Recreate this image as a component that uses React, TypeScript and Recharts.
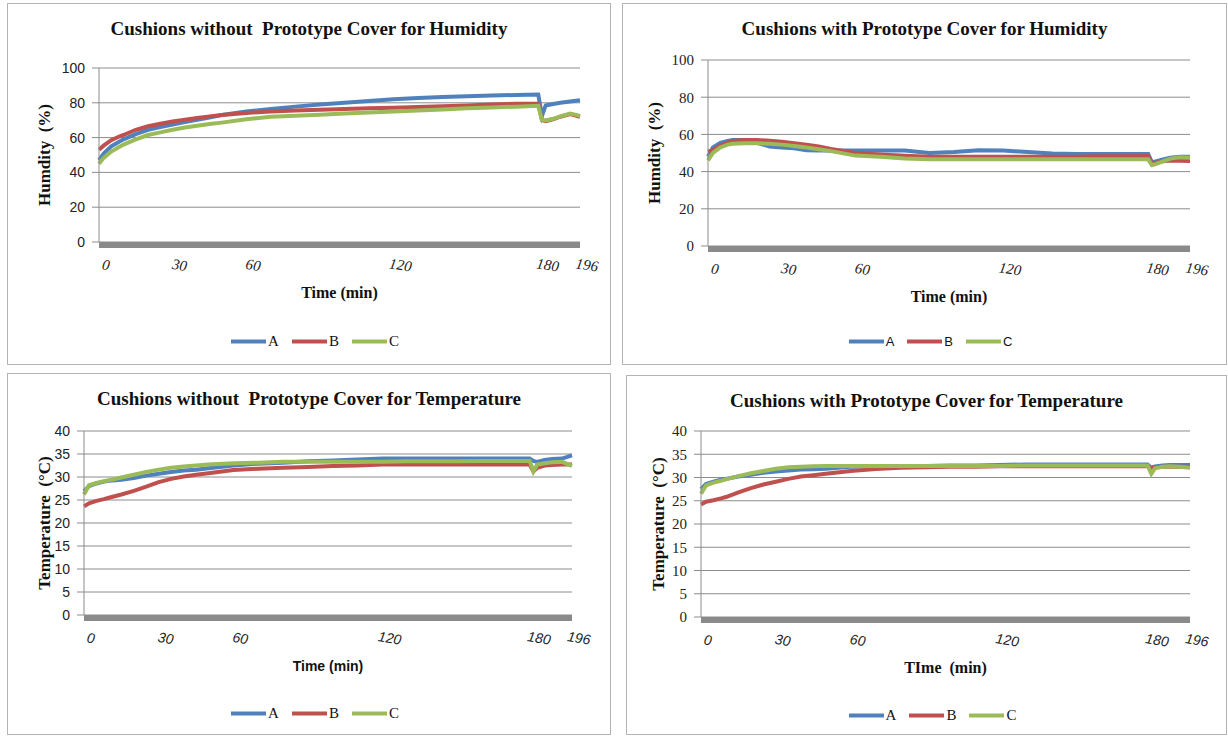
import React from 'react';
import { LineChart, Line, XAxis, YAxis, CartesianGrid } from 'recharts';

// sample times (min), shared by every series
const times = [0, 2, 5, 8, 10, 15, 20, 25, 30, 35, 40, 45, 50, 60, 70, 80, 90, 100, 110, 120, 130, 140, 150, 160, 170, 179, 180.5, 182, 185, 188, 192, 196];

// humidity (%) without cover
const humNoA = [47, 51, 55, 57.5, 59, 62, 64.5, 66, 67.5, 69, 70.3, 71.5, 73, 75, 76.4, 77.8, 79, 80, 81, 82, 82.7, 83.3, 83.8, 84.2, 84.5, 84.7, 72.5, 78.5, 79.3, 80, 80.8, 81.5];
const humNoB = [53, 55.5, 58.5, 60.5, 61.5, 64.5, 66.5, 68, 69.3, 70.3, 71.3, 72.2, 73, 74.2, 75, 75.6, 76, 76.5, 76.8, 77.2, 77.6, 78, 78.5, 79, 79.4, 79.5, 70, 69.5, 70.5, 72, 73.5, 72];
const humNoC = [45, 48.5, 52, 54.5, 56, 59, 61.5, 63, 64.5, 65.8, 66.8, 67.8, 68.6, 70.5, 72, 72.6, 73.2, 73.8, 74.4, 75, 75.6, 76.2, 76.8, 77.3, 77.8, 78.3, 70, 69.8, 70.8, 72.2, 73.8, 72.5];

// humidity (%) with cover
const humWithA = [48, 53, 55.5, 56.5, 57, 57, 55.5, 53.5, 53, 52.5, 51.5, 51.3, 51.3, 51.3, 51.3, 51.3, 50, 50.5, 51.5, 51.3, 50.5, 49.7, 49.5, 49.5, 49.5, 49.5, 45, 45.5, 46.5, 47.5, 48, 48];
const humWithB = [50.7, 51.5, 54, 55.5, 56.5, 57, 57, 56.6, 56, 55.3, 54.5, 53.5, 52.2, 50, 49.2, 48.5, 48, 48, 48, 48, 48, 48, 48, 48.2, 48.3, 48.4, 44.5, 44.8, 45.5, 46, 45.8, 45.7];
const humWithC = [46, 50, 53, 54.5, 55, 55.3, 55.2, 55, 54.5, 53.8, 53, 52, 51, 48.6, 48, 47.1, 46.6, 46.6, 46.6, 46.6, 46.6, 46.6, 46.6, 46.6, 46.6, 46.6, 43.5, 44, 45.5, 47, 47.7, 47.5];

// temperature (°C) without cover
const tempNoA = [26.9, 28, 28.6, 29, 29.2, 29.4, 29.8, 30.3, 30.7, 31.1, 31.4, 31.6, 31.9, 32.5, 32.9, 33.1, 33.4, 33.6, 33.8, 34, 34, 34, 34, 34, 34, 34, 33.5, 33.3, 33.7, 33.9, 34, 34.7];
const tempNoB = [23.6, 24.3, 24.8, 25.2, 25.5, 26.2, 27, 27.9, 28.9, 29.6, 30.1, 30.5, 30.8, 31.5, 31.8, 32, 32.2, 32.4, 32.5, 32.7, 32.7, 32.7, 32.7, 32.7, 32.7, 32.7, 31.2, 32, 32.5, 32.6, 32.7, 32.7];
const tempNoC = [26.2, 28.2, 28.7, 29.1, 29.3, 29.9, 30.5, 31.1, 31.6, 32, 32.3, 32.5, 32.7, 33, 33.1, 33.3, 33.3, 33.3, 33.3, 33.3, 33.4, 33.4, 33.4, 33.5, 33.5, 33.5, 31.2, 32.7, 33, 33.2, 33.3, 32.4];

// temperature (°C) with cover
const tempWithA = [27.5, 28.6, 29.1, 29.5, 29.7, 30.2, 30.6, 31, 31.3, 31.5, 31.7, 31.8, 31.9, 32.3, 32.4, 32.5, 32.5, 32.6, 32.6, 32.7, 32.8, 32.8, 32.8, 32.8, 32.8, 32.8, 32.1, 32.4, 32.6, 32.7, 32.7, 32.7];
const tempWithB = [24.2, 24.8, 25.1, 25.5, 25.8, 26.8, 27.7, 28.5, 29.1, 29.7, 30.2, 30.5, 30.8, 31.4, 31.8, 32.1, 32.2, 32.3, 32.3, 32.4, 32.4, 32.4, 32.4, 32.4, 32.4, 32.4, 32, 32.2, 32.3, 32.3, 32.3, 32.3];
const tempWithC = [26.5, 28.3, 28.9, 29.3, 29.6, 30.3, 30.9, 31.4, 31.9, 32.2, 32.3, 32.4, 32.5, 32.5, 32.5, 32.5, 32.5, 32.5, 32.5, 32.5, 32.6, 32.6, 32.6, 32.6, 32.6, 32.6, 30.8, 32, 32.3, 32.4, 32.3, 32.1];

const xTicks = [0, 30, 60, 120, 180, 196];
const humTicks = [0, 20, 40, 60, 80, 100];
const tempTicks = [0, 5, 10, 15, 20, 25, 30, 35, 40];
const seriesNames = ['A', 'B', 'C'];
const colors: Record<string, string> = { A: '#4f81bd', B: '#c0504d', C: '#9bbb59' };

const SERIF = '"Liberation Serif", "Times New Roman", serif';
const SANS = '"Liberation Sans", Arial, sans-serif';
const GRID = '#8c8c8c';

const toRows = (a: number[], b: number[], c: number[]) =>
  times.map((t, i) => ({ t, A: a[i], B: b[i], C: c[i] }));

type Box = { x: number; y: number; w: number; h: number };
type Plot = { l: number; r: number; t: number; b: number };

interface PanelProps {
  box: Box;
  plot: Plot;
  title: string;
  yLabel: string;
  xLabel: string;
  xLabelFont: string;
  xLabelSize: number;
  rows: any[];
  yMax: number;
  yTicks: number[];
  yTickFont: string;
  yTickSize: number;
  xTickFont: string;
  xTickSize: number;
  legendFont: string;
  legendSize: number;
  legendY: number;
}

const Y_W = 40;
const X_H = 30;

const Panel = (p: PanelProps) => {
  const { box, plot } = p;
  const margin = {
    top: plot.t - box.y,
    left: plot.l - box.x - Y_W,
    right: box.x + box.w - plot.r,
    bottom: box.y + box.h - plot.b - X_H,
  };
  const midX = (plot.l + plot.r) / 2;
  const midY = (plot.t + plot.b) / 2;

  const XTick = (props: any) => {
    const { x, y, payload } = props;
    const cx = x + 7;
    const cy = y + 23;
    return (
      <text
        x={cx}
        y={cy}
        textAnchor="middle"
        dominantBaseline="central"
        fontFamily={p.xTickFont}
        fontStyle="italic"
        fontSize={p.xTickSize}
        fill="#222"
        transform={`rotate(9 ${cx} ${cy})`}
      >
        {payload.value}
      </text>
    );
  };

  return (
    <>
      <div
        style={{
          position: 'absolute',
          left: box.x,
          top: box.y,
          width: box.w,
          height: box.h,
          border: '1px solid #b4b4b4',
          boxSizing: 'border-box',
        }}
      />
      <div style={{ position: 'absolute', left: box.x, top: box.y }}>
        <LineChart width={box.w} height={box.h} data={p.rows} margin={margin}>
          <CartesianGrid vertical={false} stroke={GRID} />
          <XAxis
            type="number"
            dataKey="t"
            domain={[0, 196]}
            ticks={xTicks}
            interval={0}
            height={X_H}
            tickSize={0}
            tickMargin={0}
            tickLine={false}
            axisLine={{ stroke: '#8a8a8a', strokeWidth: 6 }}
            tick={XTick}
          />
          <YAxis
            type="number"
            domain={[0, p.yMax]}
            ticks={p.yTicks}
            interval={0}
            width={Y_W}
            tickSize={7}
            tickMargin={7}
            tickLine={{ stroke: GRID }}
            axisLine={{ stroke: GRID }}
            tick={{ fontFamily: p.yTickFont, fontSize: p.yTickSize, fill: '#222' }}
          />
          {seriesNames.map((s) => (
            <Line
              key={s}
              type="linear"
              dataKey={s}
              stroke={colors[s]}
              strokeWidth={4}
              dot={false}
              isAnimationActive={false}
            />
          ))}
        </LineChart>
      </div>
      <div
        style={{
          position: 'absolute',
          left: box.x,
          width: box.w,
          top: box.y + 14,
          textAlign: 'center',
          whiteSpace: 'pre',
          fontFamily: SERIF,
          fontWeight: 'bold',
          fontSize: 19,
          lineHeight: '24px',
          color: '#111',
        }}
      >
        {p.title}
      </div>
      <div
        style={{
          position: 'absolute',
          left: box.x + (box.x < 300 ? 38 : 33),
          top: midY,
          transform: 'translate(-50%, -50%) rotate(-90deg)',
          whiteSpace: 'pre',
          fontFamily: SERIF,
          fontWeight: 'bold',
          fontSize: 17,
          color: '#111',
        }}
      >
        {p.yLabel}
      </div>
      <div
        style={{
          position: 'absolute',
          left: midX,
          top: plot.b + 51,
          transform: 'translate(-50%, -50%)',
          whiteSpace: 'pre',
          fontFamily: p.xLabelFont,
          fontWeight: 'bold',
          fontSize: p.xLabelSize,
          color: '#111',
        }}
      >
        {p.xLabel}
      </div>
      <div
        style={{
          position: 'absolute',
          left: box.x + 6,
          width: box.w,
          top: p.legendY,
          transform: 'translateY(-50%)',
          display: 'flex',
          justifyContent: 'center',
          alignItems: 'center',
          fontFamily: p.legendFont,
          fontSize: p.legendSize,
          color: '#111',
        }}
      >
        {seriesNames.map((s, i) => (
          <div key={s} style={{ display: 'flex', alignItems: 'center', marginRight: i < 2 ? 13 : 0 }}>
            <div style={{ width: 35, height: 4, background: colors[s], marginRight: 2 }} />
            <span>{s}</span>
          </div>
        ))}
      </div>
    </>
  );
};

export default function App() {
  return (
    <div style={{ position: 'absolute', left: 0, top: 0, width: 1228, height: 736, background: '#fff' }}>
      <style>{`.recharts-xAxis .recharts-cartesian-axis-line { transform: translateY(3px); }`}</style>
      <Panel
        box={{ x: 7, y: 3, w: 604, h: 362 }}
        plot={{ l: 99, r: 580, t: 68, b: 242 }}
        title="Cushions without  Prototype Cover for Humidity"
        yLabel="Humdity  (%)"
        xLabel="Time (min)"
        xLabelFont={SERIF}
        xLabelSize={16}
        rows={toRows(humNoA, humNoB, humNoC)}
        yMax={100}
        yTicks={humTicks}
        yTickFont={SANS}
        yTickSize={14}
        xTickFont={SERIF}
        xTickSize={15}
        legendFont={SERIF}
        legendSize={15}
        legendY={341}
      />
      <Panel
        box={{ x: 622, y: 3, w: 605, h: 362 }}
        plot={{ l: 708, r: 1190, t: 60, b: 246 }}
        title="Cushions with Prototype Cover for Humidity"
        yLabel="Humdity  (%)"
        xLabel="Time (min)"
        xLabelFont={SERIF}
        xLabelSize={16}
        rows={toRows(humWithA, humWithB, humWithC)}
        yMax={100}
        yTicks={humTicks}
        yTickFont={SERIF}
        yTickSize={15}
        xTickFont={SERIF}
        xTickSize={15}
        legendFont={SANS}
        legendSize={13}
        legendY={341}
      />
      <Panel
        box={{ x: 7, y: 373, w: 604, h: 362 }}
        plot={{ l: 84, r: 572, t: 431, b: 615 }}
        title="Cushions without  Prototype Cover for Temperature"
        yLabel="Temperature  (°C)"
        xLabel="Time (min)"
        xLabelFont={SANS}
        xLabelSize={14}
        rows={toRows(tempNoA, tempNoB, tempNoC)}
        yMax={40}
        yTicks={tempTicks}
        yTickFont={SANS}
        yTickSize={14}
        xTickFont={SANS}
        xTickSize={14}
        legendFont={SERIF}
        legendSize={15}
        legendY={713}
      />
      <Panel
        box={{ x: 626, y: 375, w: 601, h: 360 }}
        plot={{ l: 701, r: 1190, t: 431, b: 617 }}
        title="Cushions with Prototype Cover for Temperature"
        yLabel="Temperature  (°C)"
        xLabel="TIme  (min)"
        xLabelFont={SERIF}
        xLabelSize={16}
        rows={toRows(tempWithA, tempWithB, tempWithC)}
        yMax={40}
        yTicks={tempTicks}
        yTickFont={SERIF}
        yTickSize={15}
        xTickFont={SANS}
        xTickSize={14}
        legendFont={SERIF}
        legendSize={15}
        legendY={715}
      />
    </div>
  );
}
